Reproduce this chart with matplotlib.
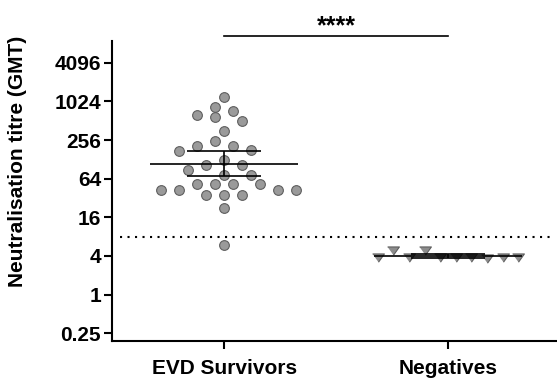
import numpy as np
import matplotlib
matplotlib.use("Agg")
import matplotlib.pyplot as plt
from matplotlib.transforms import blended_transform_factory

plt.rcParams['font.family'] = ['Liberation Sans', 'DejaVu Sans']
plt.rcParams['font.weight'] = 'bold'

# Data
groups = ['EVD Survivors', 'Negatives']
evd_titres = [1209, 849, 714, 635, 592, 501, 350, 249, 209, 209, 180, 175,
              123, 105, 105, 88, 74, 74, 52, 52, 52, 52, 43, 43, 43, 43,
              36, 36, 36, 22.5, 5.9]
neg_titres = [3.9, 3.8, 4.9, 3.9, 3.8, 3.7, 4.9, 3.9, 3.8, 3.9]
cutoff = 8
yticks = [0.25, 1, 4, 16, 64, 256, 1024, 4096]
ytick_labels = ['0.25', '1', '4', '16', '64', '256', '1024', '4096']
signif = '****'

# two-sided 95% t values by degrees of freedom
T95 = {9: 2.262, 10: 2.228, 30: 2.042}


def gmean_ci(values):
    logs = np.log2(values)
    m = logs.mean()
    sem = logs.std(ddof=1) / np.sqrt(len(logs))
    t = T95[len(logs) - 1]
    return 2 ** m, 2 ** (m - t * sem), 2 ** (m + t * sem)


def swarm_x(ax, xc, values, step, wx, wy, half=False, by_value=True):
    """Greedy beeswarm in pixel space, returns x in data units.
    Two points collide when (dx/wx)^2 + (dy/wy)^2 < 1."""
    pts = ax.transData.transform(np.column_stack([np.full(len(values), xc), values]))
    ypix = pts[:, 1]
    x0 = pts[0, 0]
    order = np.argsort(-ypix, kind='stable') if by_value else range(len(values))
    shift = step / 2 if half else 0
    cands = sorted([k * step + shift for k in range(-20, 21)],
                   key=lambda v: (round(abs(v), 6), v))
    placed = []
    offs = np.zeros(len(values))
    for i in order:
        for c in cands:
            if all(((c - px) / wx) ** 2 + ((ypix[i] - py) / wy) ** 2 >= 1
                   for px, py in placed):
                break
        placed.append((c, ypix[i]))
        offs[i] = c
    inv = ax.transData.inverted()
    return inv.transform(np.column_stack([x0 + offs, ypix]))[:, 0]


fig = plt.figure(figsize=(5.57, 3.8), dpi=100)
ax = fig.add_axes([112.3 / 557, 39 / 380, 1 - 112.3 / 557, (341 - 40.7) / 380])
ax.set_yscale('log', base=2)
ax.set_ylim(2 ** -2.40, 2 ** 13.14)
ax.set_xlim(-0.5, 1.487)

ax.set_yticks(yticks)
ax.set_yticklabels(ytick_labels)
ax.minorticks_off()
ax.set_xticks([0, 1])
ax.set_xticklabels(groups)
ax.tick_params(axis='both', length=5.8, width=1.5, labelsize=15, colors='black')
ax.tick_params(axis='y', pad=2.2)
ax.tick_params(axis='x', pad=7)

for s in ['top', 'right']:
    ax.spines[s].set_visible(False)
for s in ['left', 'bottom']:
    ax.spines[s].set_linewidth(1.5)

# cutoff line
ax.axhline(cutoff, xmin=0.018, xmax=0.99, color='black', lw=1.5,
           linestyle=(0, (1, 2.6)), zorder=1)

# points
xe = swarm_x(ax, 0, evd_titres, 9, 17, 10)
ax.scatter(xe, evd_titres, s=7 ** 2, facecolor='#9a9a9a', edgecolor='#5e5e5e',
           linewidth=0.8, zorder=2, clip_on=False)

tri = [(-1, 0.6), (1, 0.6), (0, -0.8)]
xn = swarm_x(ax, 1, neg_titres, 15.6, 15, 12, half=True, by_value=False)
ax.scatter(xn, neg_titres, s=8.5 ** 2, marker=tri, facecolor='#8c8c8c',
           edgecolor='#5e5e5e', linewidth=0.8, zorder=2, clip_on=False)

# geometric mean with 95% CI
for xc, vals in [(0, evd_titres), (1, neg_titres)]:
    gm, lo, hi = gmean_ci(vals)
    ax.hlines(gm, xc - 0.33, xc + 0.33, color='black', lw=1.2, zorder=3)
    ax.hlines([lo, hi], xc - 0.165, xc + 0.165, color='black', lw=1.2, zorder=3)
    ax.vlines(xc, lo, hi, color='black', lw=1.2, zorder=3)

# significance bar
trans = blended_transform_factory(ax.transData, ax.transAxes)
ax.plot([0, 1], [1.0157, 1.0157], color='black', lw=1.2, transform=trans,
        clip_on=False)
ax.text(0.5, 1.0256, signif, transform=trans, ha='center', va='baseline',
        fontsize=18, fontweight='bold')

fig.text(18 / 557, (380 - 161.5) / 380, 'Neutralisation titre (GMT)',
         rotation=90, ha='center', va='center', fontsize=15, fontweight='bold')

fig.savefig('out.png', dpi=100)
